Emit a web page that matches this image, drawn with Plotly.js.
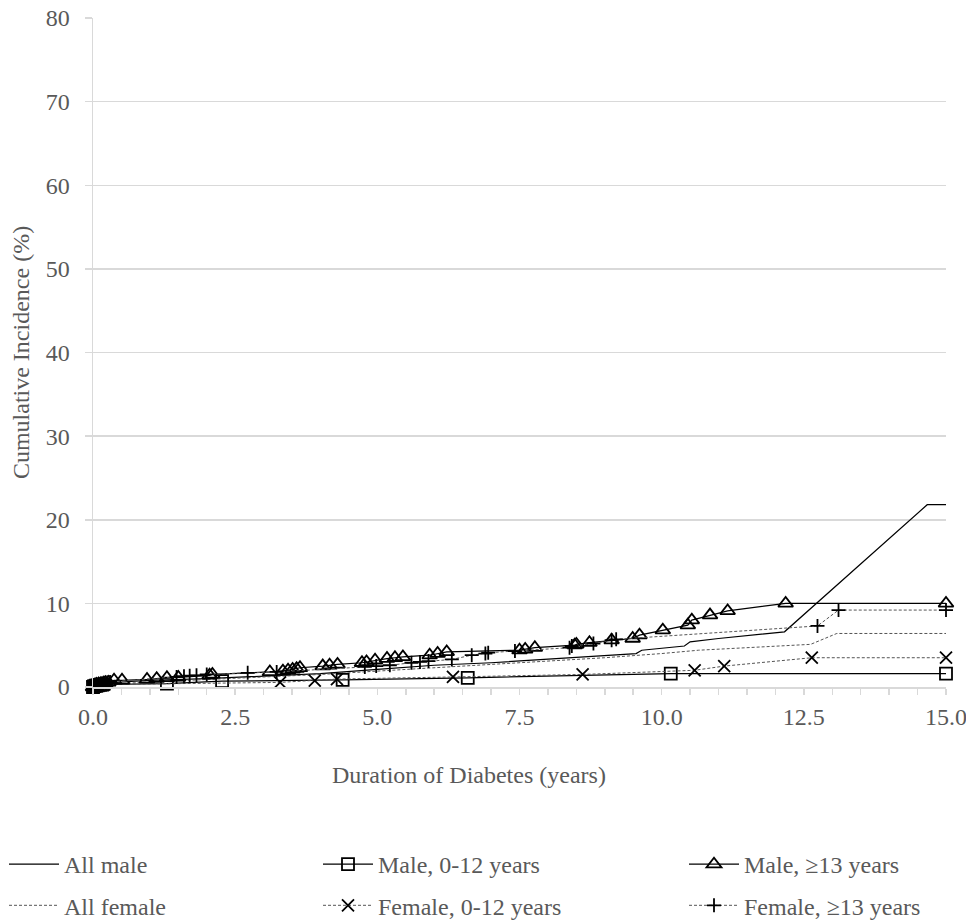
<!DOCTYPE html>
<html>
<head>
<meta charset="utf-8">
<script src="https://cdn.plot.ly/plotly-3.0.1.min.js"></script>
<style>html,body{margin:0;padding:0;background:#fff;}#chart{width:966px;height:924px;}</style>
</head>
<body>
<div id="chart"></div>
<script>
// ---- Data ----
const allMaleX = [0, 0.1, 0.5, 1, 2, 3, 4, 5, 6, 7, 8, 9, 9.55, 9.65, 10.4, 10.5, 11, 12.16, 14.67, 15];
const allMaleY = [0, 0.3, 0.6, 0.8, 1.0, 1.3, 1.6, 2.1, 2.6, 2.9, 3.3, 3.7, 4.0, 4.4, 4.9, 5.4, 5.8, 6.6, 21.8, 21.8];

const allFemaleX = [0, 0.2, 1, 2, 3, 4, 5, 6, 7, 8, 9, 10, 10.65, 12.62, 13.08, 15];
const allFemaleY = [0, 0.3, 0.6, 0.9, 1.2, 1.5, 1.9, 2.3, 2.7, 3.1, 3.5, 4.0, 4.4, 5.1, 6.4, 6.4];

const maleYoungX = [0, 0.02, 0.05, 0.08, 0.12, 0.16, 1.30, 2.27, 4.39, 6.59, 10.16, 15.0];
const maleYoungY = [0, 0.1, 0.15, 0.2, 0.25, 0.3, 0.4, 0.7, 0.85, 1.1, 1.6, 1.6];

const maleOldX = [0, 0.03, 0.06, 0.1, 0.14, 0.18, 0.22, 0.27, 0.37, 0.51, 0.95, 1.12, 1.3, 1.5, 2.05, 2.1,
  3.11, 3.34, 3.43, 3.51, 3.58, 3.64, 4.04, 4.16, 4.3, 4.73, 4.81, 4.96, 5.17, 5.31, 5.45,
  5.92, 6.06, 6.22, 7.5, 7.6, 7.77, 8.47, 8.5, 8.73, 9.12, 9.49, 9.61, 10.02, 10.46, 10.53,
  10.85, 11.16, 12.18, 15.0];
const maleOldY = [0, 0.2, 0.3, 0.35, 0.4, 0.45, 0.5, 0.55, 0.8, 0.8, 0.9, 1.0, 1.1, 1.15, 1.4, 1.5,
  1.8, 1.9, 2.0, 2.1, 2.2, 2.3, 2.5, 2.6, 2.7, 2.9, 3.0, 3.2, 3.4, 3.5, 3.6,
  3.8, 4.0, 4.2, 4.4, 4.5, 4.7, 5.0, 5.1, 5.3, 5.6, 5.8, 6.2, 6.8, 7.4, 8.0,
  8.6, 9.1, 10.0, 10.0];

const femaleYoungX = [0, 0.03, 0.07, 0.1, 0.15, 0.2, 3.29, 3.9, 4.29, 6.33, 8.61, 10.58, 11.1, 12.64, 15.0];
const femaleYoungY = [0, 0.1, 0.15, 0.2, 0.25, 0.3, 0.55, 0.75, 0.95, 1.2, 1.5, 2.0, 2.5, 3.5, 3.5];

const femaleOldX = [0, 0.05, 0.1, 0.15, 0.2, 0.25, 0.3, 1.47, 1.6, 1.7, 1.82, 2.0, 2.72, 3.23,
  4.78, 4.98, 5.22, 5.6, 5.75, 5.9, 6.31, 6.66, 6.9, 6.95, 7.42, 8.38, 8.42, 8.8, 9.12, 9.2,
  12.74, 13.11, 15.0];
const femaleOldY = [0, 0.2, 0.3, 0.4, 0.5, 0.55, 0.6, 1.2, 1.3, 1.35, 1.4, 1.5, 1.7, 1.8,
  2.4, 2.5, 2.6, 2.9, 3.0, 3.1, 3.3, 3.8, 4.0, 4.1, 4.3, 4.7, 4.9, 5.2, 5.6, 5.7,
  7.3, 9.2, 9.2];

const seriesNames = ["All male", "All female", "Male, 0-12 years", "Female, 0-12 years", "Male, \u226513 years", "Female, \u226513 years"];
const xTickVals = [0, 2.5, 5, 7.5, 10, 12.5, 15];
const xTickText = ["0.0", "2.5", "5.0", "7.5", "10.0", "12.5", "15.0"];
const yTickVals = [0, 10, 20, 30, 40, 50, 60, 70, 80];
const xTitle = "Duration of Diabetes (years)";
const yTitle = "Cumulative Incidence (%)";

// ---- Styles ----
const FONT = "Liberation Serif";
const TXT = "#595959";
const GRID = "#d9d9d9";
const solid = {color: "#000000", width: 1.2};
const dotted = {color: "#555555", width: 1, dash: "3px,2px"};

// plot-area pixel geometry used for paper-coordinate placement
const PL = 93, PR = 946, PT = 18, PB = 687;
const px2x = p => (p - PL) / (PR - PL);
const px2y = p => (PB - p) / (PB - PT);

function tr(x, y, name, line, marker, legend, group) {
  const t = {x: x, y: y, name: name, type: "scatter", line: line, legend: legend, legendgroup: group, cliponaxis: false};
  if (marker) { t.mode = "lines+markers"; t.marker = marker; } else { t.mode = "lines"; }
  return t;
}

const traces = [
  tr(allMaleX, allMaleY, seriesNames[0], solid, null, "legend", "a"),
  tr(allFemaleX, allFemaleY, seriesNames[1], dotted, null, "legend", "b"),
  tr(maleYoungX, maleYoungY, seriesNames[2], solid, {symbol: "square-open", size: 12, color: "#000", line: {width: 1.8, color: "#000"}}, "legend2", "c"),
  tr(femaleYoungX, femaleYoungY, seriesNames[3], dotted, {symbol: "x-thin-open", size: 12, color: "#000", line: {width: 1.8, color: "#000"}}, "legend2", "d"),
  tr(maleOldX, maleOldY, seriesNames[4], solid, {symbol: "triangle-up-open", size: 13, color: "#000", line: {width: 1.8, color: "#000"}}, "legend3", "e"),
  tr(femaleOldX, femaleOldY, seriesNames[5], dotted, {symbol: "cross-thin-open", size: 10, color: "#000", line: {width: 1.8, color: "#000"}}, "legend3", "f")
];

const legendBase = {orientation: "v", font: {family: FONT, size: 24, color: TXT}, bgcolor: "rgba(0,0,0,0)",
  itemwidth: 50, tracegroupgap: 7, traceorder: "grouped", yanchor: "top", xanchor: "left",
  y: px2y(842)};

const layout = {
  width: 966, height: 924,
  margin: {l: PL, r: 966 - PR, t: PT, b: 924 - PB, autoexpand: false},
  paper_bgcolor: "#ffffff", plot_bgcolor: "#ffffff",
  font: {family: FONT, size: 24, color: TXT},
  showlegend: true,
  xaxis: {
    range: [0, 15], tickvals: xTickVals, ticktext: xTickText, automargin: false,
    ticklabeloverflow: "allow",
    showgrid: false, zeroline: false, showline: true, linecolor: GRID, linewidth: 1.5,
    ticks: "outside", ticklen: 6, tickcolor: GRID, tickwidth: 1.5,
    minor: {dtick: 0.5, tick0: 0, ticks: "outside", ticklen: 6, tickcolor: GRID, tickwidth: 1.5},
    tickfont: {family: FONT, size: 24, color: TXT}, ticklabelstandoff: 2
  },
  yaxis: {
    range: [0, 80], tickvals: yTickVals, automargin: false,
    showgrid: true, gridcolor: GRID, gridwidth: 1.5, zeroline: false,
    showline: true, linecolor: GRID, linewidth: 1.5,
    ticks: "outside", ticklen: 7, tickcolor: GRID, tickwidth: 1.5,
    tickfont: {family: FONT, size: 24, color: TXT}, ticklabelstandoff: 10,
    title: {text: yTitle, font: {family: FONT, size: 24, color: TXT}, standoff: 9}
  },
  legend: Object.assign({}, legendBase, {x: px2x(4)}),
  legend2: Object.assign({}, legendBase, {x: px2x(318)}),
  legend3: Object.assign({}, legendBase, {x: px2x(684)}),
  annotations: [{
    text: xTitle, xref: "paper", yref: "paper", x: px2x(469), y: px2y(775),
    xanchor: "center", yanchor: "middle", showarrow: false,
    font: {family: FONT, size: 24, color: TXT}
  }]
};

Plotly.newPlot("chart", traces, layout, {displayModeBar: false, staticPlot: true});
</script>
</body>
</html>
